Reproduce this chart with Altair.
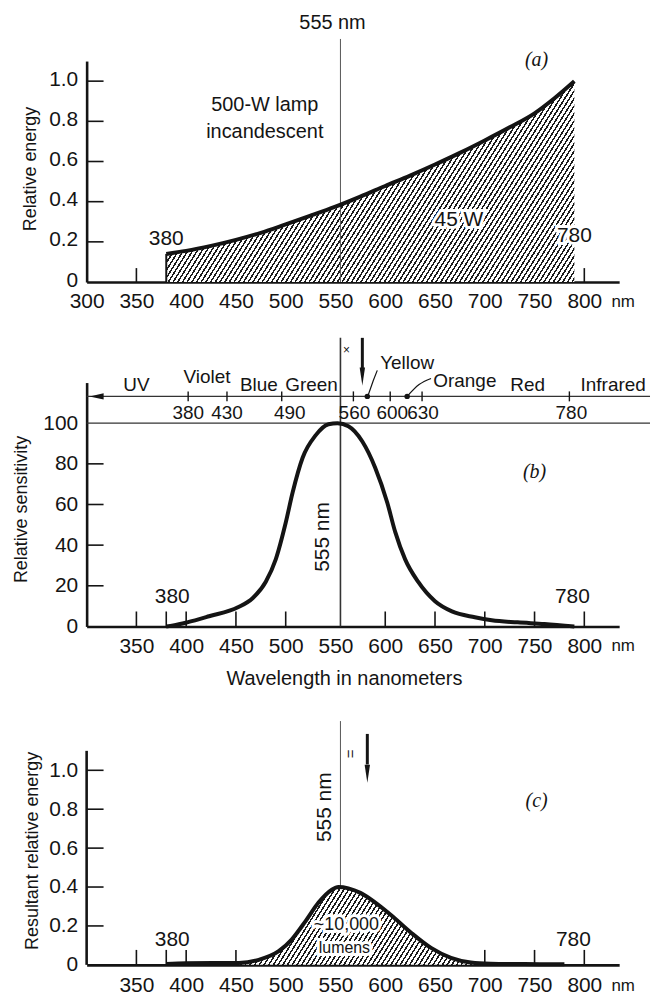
import math
import altair as alt
import pandas as pd

# ---------------- data ----------------
# (a) 500-W incandescent lamp, relative energy
lamp_wl = [380, 400, 425, 450, 475, 500, 525, 550, 575, 600, 625, 650, 675, 700, 725, 750, 770, 790]
lamp_val = [0.14, 0.155, 0.18, 0.21, 0.245, 0.287, 0.33, 0.375, 0.425, 0.478, 0.53, 0.585, 0.643, 0.705, 0.77, 0.84, 0.915, 1.0]

# (b) relative sensitivity of the eye
sens_wl = [380, 387, 401, 423, 452, 467, 480, 490, 500, 507, 517, 530, 543, 552, 563, 577, 590, 602, 610, 620, 633, 650, 667, 690, 707, 733, 760, 790]
sens_val = [0, 0.5, 2, 5, 9.4, 14, 22, 33, 51, 66, 83, 94, 99.5, 100, 98.5, 91, 78, 61, 46.5, 33, 22, 12.4, 7.4, 4.5, 3, 2, 1.2, 0]

# (c) resultant relative energy
res_wl = [380, 400, 453, 473, 493, 506, 520, 533, 546, 553, 563, 575, 590, 606, 626, 646, 666, 686, 706, 740, 780]
res_val = [0.005, 0.008, 0.01, 0.026, 0.07, 0.13, 0.225, 0.32, 0.385, 0.40, 0.393, 0.37, 0.32, 0.255, 0.165, 0.087, 0.036, 0.012, 0.006, 0.004, 0.003]

x_ticks_a = [300, 350, 400, 450, 500, 550, 600, 650, 700, 750, 800]
x_ticks_bc = [350, 400, 450, 500, 550, 600, 650, 700, 750, 800]
y_ticks_a = [0, 0.2, 0.4, 0.6, 0.8, 1.0]
y_ticks_b = [0, 20, 40, 60, 80, 100]

# spectrum scale on top of (b)
spec_lbl = ["380", "430", "490", "560", "600", "630", "780"]
spec_lbl_at = [402, 441, 504, 569, 607, 638, 787]
spec_cross_at = [402, 441, 496, 568, 605, 637, 785]
band_names = ["UV", "Violet", "Blue", "Green", "Red", "Infrared"]
band_at = [350, 421, 473, 526, 743, 829]
band_y = [118.6, 122.5, 118.6, 118.6, 118.6, 118.6]
dots_at = [582, 622]

PEAK_NM = 555

# ---------------- style ----------------
INK = "#141414"
FONT = "Liberation Sans, Arial, sans-serif"
FONT_T = "Liberation Sans, Arial, sans-serif"
FONT_IT = "Liberation Serif, DejaVu Serif, serif"
W = 535
XD = [300, 835]
HA, HB, HC = 222, 245, 239
YA = [0, 1.1]
YB = [0, 120]
YC = [0, HC / 195.45]


def hatch(w, h, period=4.0, dark=1.5, ang=58):
    a = math.radians(ang)
    nx, ny = math.sin(a), math.cos(a)
    L = nx * w + ny * h
    s = L / (nx * nx * w * w + ny * ny * h * h)
    x2, y2 = nx * w * s, ny * h * s
    stops = []
    t = 0.0
    while t < 1.0:
        t1 = min(t + dark / L, 1.0)
        t2 = min(t + period / L, 1.0)
        stops += [(t, "#1c1c1c"), (t1, "#1c1c1c"), (t1, "#ffffff"), (t2, "#ffffff")]
        t += period / L
    return alt.Gradient(gradient="linear", x1=0, y1=0, x2=round(x2, 5), y2=round(y2, 5),
                        stops=[alt.GradientStop(offset=round(o, 5), color=c) for o, c in stops])


def xaxis(values, pad):
    return alt.Axis(values=values, ticks=False, tickSize=0, labelPadding=pad, labelBaseline="middle",
                    labelFont=FONT, labelFontSize=21, labelColor=INK, domainColor=INK, domainWidth=2.6,
                    grid=False, title=None, labelOverlap=False, labelFlush=False)


def yaxis(values, title, tx, ty, fmt=True, domain=True, loff=0):
    kw = dict(values=values, ticks=False, tickSize=0, labelPadding=9, labelFont=FONT, labelFontSize=21,
              labelColor=INK, domainColor=INK, domainWidth=2.6, grid=False, title=title,
              titleFont=FONT_T, titleFontSize=18, titleFontWeight="normal", titleColor=INK,
              titleX=tx, titleY=ty, titleAngle=270, titleAlign="center", titleBaseline="middle",
              labelOverlap=False, domain=domain, labelOffset=loff)
    if fmt:
        kw["labelExpr"] = "datum.value == 0 ? '0' : format(datum.value, '.1f')"
    return alt.Axis(**kw)


class Panel:
    def __init__(self, H, ydom, xax, yax):
        self.H = H
        self.xs = alt.Scale(domain=XD, nice=False, zero=False)
        self.ys = alt.Scale(domain=ydom, nice=False, zero=False)
        self.xax, self.yax = xax, yax
        self.layers = []

    def X(self, f="x"):
        return alt.X(f"{f}:Q", scale=self.xs, axis=self.xax)

    def Y(self, f="y"):
        return alt.Y(f"{f}:Q", scale=self.ys, axis=self.yax)

    def add(self, c):
        self.layers.append(c)

    def text(self, xs, ys, labels, size, font=FONT, halo=False, **mk):
        df = pd.DataFrame({"x": xs, "y": ys, "t": labels})
        if halo:
            self.add(alt.Chart(df).mark_text(font=font, fontSize=size, color="white", stroke="white",
                                             strokeWidth=6, **mk).encode(x=self.X(), y=self.Y(), text="t:N"))
        self.add(alt.Chart(df).mark_text(font=font, fontSize=size, color=INK, **mk)
                 .encode(x=self.X(), y=self.Y(), text="t:N"))

    def vrule(self, x, y1, y2, width, color=INK):
        df = pd.DataFrame({"x": [x], "y": [y1], "y2": [y2]})
        self.add(alt.Chart(df).mark_rule(color=color, strokeWidth=width)
                 .encode(x=self.X(), y=self.Y(), y2=alt.Y2("y2:Q")))

    def hrule(self, y, x1, x2, width, color=INK):
        df = pd.DataFrame({"x": [x1], "x2": [x2], "y": [y]})
        self.add(alt.Chart(df).mark_rule(color=color, strokeWidth=width)
                 .encode(x=self.X(), x2=alt.X2("x2:Q"), y=self.Y()))

    def yticks(self, values, length=17):
        df = pd.DataFrame({"y": values})
        self.add(alt.Chart(df).mark_rule(color=INK, strokeWidth=1.6)
                 .encode(y=self.Y(), x=alt.value(0), x2=alt.value(length)))

    def xticks(self, values, length=15):
        df = pd.DataFrame({"x": values})
        self.add(alt.Chart(df).mark_rule(color=INK, strokeWidth=1.6)
                 .encode(x=self.X(), y=alt.value(self.H), y2=alt.value(self.H - length)))

    def arrow(self, x, ytop, ybot, yhead):
        self.vrule(x, ytop, ybot, 3)
        df = pd.DataFrame({"x": [x], "y": [yhead]})
        self.add(alt.Chart(df).mark_point(shape="M-0.3,-1L0.3,-1L0,1Z", size=324, filled=True,
                                          color=INK, opacity=1).encode(x=self.X(), y=self.Y()))

    def chart(self):
        return alt.layer(*self.layers).properties(width=W, height=self.H)


px_per_nm = W / (XD[1] - XD[0])

# ---------------- panel (a) ----------------
pa = Panel(HA, YA, xaxis(x_ticks_a, 20), yaxis(y_ticks_a, "Relative energy", -56, 108, loff=-2))
pa.yticks([0.2, 0.4, 0.6, 0.8, 1.0])
pa.xticks([350, 400, 450, 500, 600, 650, 700, 750, 800], 14)
df_a = pd.DataFrame({"x": lamp_wl, "y": lamp_val})
g_a = hatch((max(lamp_wl) - min(lamp_wl)) * px_per_nm, max(lamp_val) * HA / YA[1])
pa.add(alt.Chart(df_a).mark_area(color=g_a, interpolate="monotone").encode(x=pa.X(), y=pa.Y()))
pa.vrule(lamp_wl[0], 0, lamp_val[0], 2)
pa.vrule(PEAK_NM, 0, 1.21, 1, "#555")
pa.add(alt.Chart(df_a).mark_line(color=INK, strokeWidth=4, interpolate="monotone").encode(x=pa.X(), y=pa.Y()))
pa.text([547], [1.29], ["555 nm"], 20)
pa.text([752], [1.104], ["(a)"], 20, font=FONT_IT, fontStyle="italic")
pa.text([479, 479], [0.88, 0.748], ["500-W lamp", "incandescent"], 20)
pa.text([674], [0.31], ["45 W"], 21, halo=True)
pa.text([380], [0.213], ["380"], 21)
pa.text([790], [0.228], ["780"], 21, halo=True)
pa.text([839], [0], ["nm"], 17, dy=20)

# ---------------- panel (b) ----------------
pb = Panel(HB, YB, xaxis(x_ticks_bc, 20), yaxis(y_ticks_b, "Relative sensitivity", -65, 127, fmt=False))
pb.yticks([20, 40, 60, 80])
pb.xticks([350, 380, 400, 450, 500, 600, 650, 700, 750, 800], 15)
pb.hrule(100, 300, 866, 1.3, "#333")
pb.hrule(113.2, 300, 866, 1.3, "#333")
df_arr = pd.DataFrame({"x": [310], "y": [113.2]})
pb.add(alt.Chart(df_arr).mark_point(shape="M-1,0L1,-0.45L1,0.45Z", size=200, filled=True, color=INK,
                                    opacity=1).encode(x=pb.X(), y=pb.Y()))
df_cross = pd.DataFrame({"x": spec_cross_at, "y": [113.2] * len(spec_cross_at)})
pb.add(alt.Chart(df_cross).mark_point(shape="M0,-1L0,1", size=100, strokeWidth=1.4, color=INK,
                                      opacity=1).encode(x=pb.X(), y=pb.Y()))
df_dots = pd.DataFrame({"x": dots_at, "y": [113.2] * len(dots_at)})
pb.add(alt.Chart(df_dots).mark_point(size=30, filled=True, color=INK, opacity=1).encode(x=pb.X(), y=pb.Y()))
df_yl = pd.DataFrame({"x": [583, 588, 592], "y": [114, 121, 126], "o": [0, 1, 2]})
pb.add(alt.Chart(df_yl).mark_line(color=INK, strokeWidth=1.2).encode(x=pb.X(), y=pb.Y(), order="o:Q"))
df_ol = pd.DataFrame({"x": [622, 634, 646], "y": [113.2, 119, 122], "o": [0, 1, 2]})
pb.add(alt.Chart(df_ol).mark_line(color=INK, strokeWidth=1.2, interpolate="monotone")
       .encode(x=pb.X(), y=pb.Y(), order="o:Q"))
pb.vrule(PEAK_NM, 0, 142, 1.6, "#333")
pb.arrow(577, 142, 127, 123)
pb.text([561], [135.8], ["×"], 12)
df_b = pd.DataFrame({"x": sens_wl, "y": sens_val})
pb.add(alt.Chart(df_b).mark_line(color=INK, strokeWidth=4, interpolate="monotone").encode(x=pb.X(), y=pb.Y()))
pb.text(band_at, band_y, band_names, 19)
pb.text([622], [129.4], ["Yellow"], 19)
pb.text([680], [121], ["Orange"], 19)
pb.text(spec_lbl_at, [104.9] * len(spec_lbl_at), spec_lbl, 19)
pb.text([537], [44], ["555 nm"], 21, angle=270)
pb.text([750], [76], ["(b)"], 20, font=FONT_IT, fontStyle="italic")
pb.text([386, 788], [14.7, 14.7], ["380", "780"], 21)
pb.text([839], [0], ["nm"], 17, dy=20)
pb.text([559], [-26], ["Wavelength in nanometers"], 20)

# ---------------- panel (c) ----------------
pc = Panel(HC, YC, xaxis(x_ticks_bc, 21),
           yaxis(y_ticks_a, "Resultant relative energy", -54, 124, domain=False))
pc.vrule(XD[0], 0, 1.1, 2.6)
pc.yticks([0.2, 0.4, 0.6, 0.8, 1.0])
pc.xticks([350, 380, 400, 450, 700, 750, 800], 15)
df_c = pd.DataFrame({"x": res_wl, "y": res_val})
g_c = hatch((max(res_wl) - min(res_wl)) * px_per_nm, max(res_val) * HC / YC[1])
pc.add(alt.Chart(df_c).mark_area(color=g_c, interpolate="monotone").encode(x=pc.X(), y=pc.Y()))
pc.vrule(PEAK_NM, max(res_val), 1.253, 1, "#555")
pc.add(alt.Chart(df_c).mark_line(color=INK, strokeWidth=4, interpolate="monotone").encode(x=pc.X(), y=pc.Y()))
pc.text([565], [1.085], ["="], 15, angle=90)
pc.arrow(582, 1.187, 1.03, 0.982)
pc.text([540], [0.81], ["555 nm"], 21, angle=270)
pc.text([752], [0.84], ["(c)"], 20, font=FONT_IT, fontStyle="italic")
pc.text([386, 789], [0.128, 0.128], ["380", "780"], 21)
pc.text([561], [0.205], ["~10,000"], 18, halo=True)
pc.text([559], [0.087], ["lumens"], 16, halo=True)
pc.text([839], [0], ["nm"], 17, dy=21)

chart = alt.vconcat(pa.chart(), pb.chart(), pc.chart(), spacing=101, bounds="flush").properties(
    padding={"left": 5, "top": 2, "right": 0, "bottom": 0}
).configure_view(stroke=None)

chart.save("out.html", embed_options={"renderer": "svg", "actions": False})
